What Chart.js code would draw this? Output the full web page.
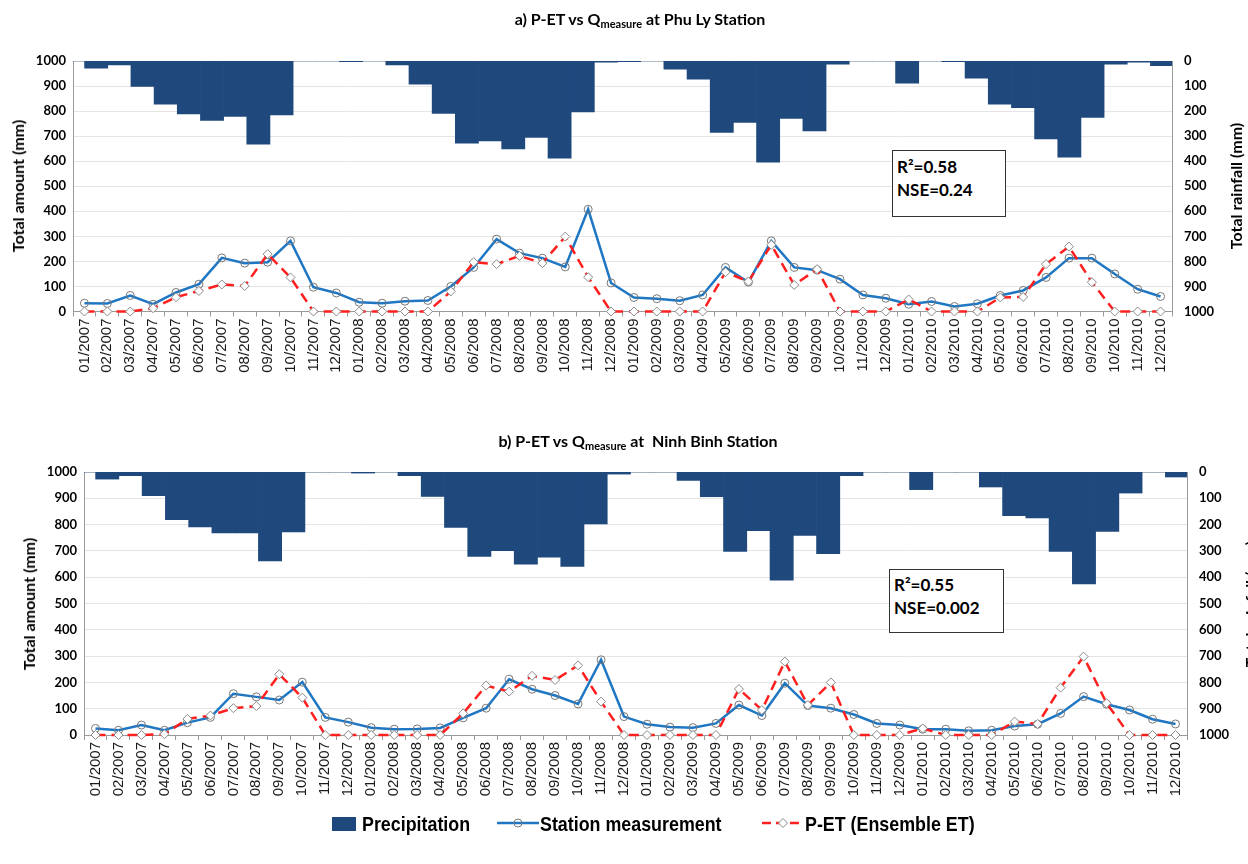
<!DOCTYPE html>
<html>
<head>
<meta charset="utf-8">
<script src="https://cdn.jsdelivr.net/npm/chart.js@4.4.1/dist/chart.umd.min.js"></script>
<style>
  html, body { margin: 0; padding: 0; background: #fff; }
  body { width: 1248px; height: 864px; position: relative; overflow: hidden; font-family: Lato, "Open Sans", sans-serif; color: #000; }
  canvas { position: absolute; left: 0; }
  #chartPhuLy { top: 0; }
  #chartNinhBinh { top: 400px; }
  .title { position: absolute; transform: translateX(-50%); white-space: pre; font-weight: 700; font-size: 16px; line-height: 18px; }
  .title sub { font-size: 11px; line-height: 0; vertical-align: -3px; }
  .axis-title { position: absolute; white-space: nowrap; font-weight: 700; font-size: 16px; line-height: 18px;
                transform: translate(-50%, -50%) rotate(-90deg); }
  .stat { position: absolute; box-sizing: border-box; border: 1px solid #333; background: #fff;
          font-weight: 700; font-size: 17px; line-height: 23px; padding: 4px 0 0 4px; }
  .legend-text { position: absolute; white-space: nowrap; font-family: "Liberation Sans Narrow", "Arial Narrow", "Liberation Sans", sans-serif;
                 font-weight: 700; font-size: 21px; line-height: 24px; transform: scaleX(0.85); transform-origin: 0 50%; }
  .legend-icon { position: absolute; }
</style>
</head>
<body>
<canvas id="chartPhuLy" width="1248" height="400"></canvas>
<canvas id="chartNinhBinh" width="1248" height="440"></canvas>

<div class="title" style="left:640px; top:10px;">a) P-ET vs Q<sub>measure</sub> at Phu Ly Station</div>
<div class="title" style="left:638px; top:432px;">b) P-ET vs Q<sub>measure</sub> at  Ninh Binh Station</div>

<div class="axis-title" style="left:18px; top:186px;">Total amount (mm)</div>
<div class="axis-title" style="left:1236px; top:186px;">Total rainfall (mm)</div>
<div class="axis-title" style="left:29px; top:604px;">Total amount (mm)</div>
<div class="axis-title" style="left:1251px; top:604px;">Total rainfall (mm)</div>

<div class="stat" style="left:892px; top:150px; width:114px; height:67px;">R²=0.58<br>NSE=0.24</div>
<div class="stat" style="left:889px; top:569px; width:115px; height:64px; padding-top:3px;">R²=0.55<br>NSE=0.002</div>

<div class="legend-icon" style="left:332px; top:817px; width:24px; height:14px; background:#1f497d;"></div>
<div class="legend-text" style="left:362px; top:812px;">Precipitation</div>
<svg class="legend-icon" style="left:497px; top:815px;" width="42" height="16">
  <line x1="0" y1="8" x2="42" y2="8" stroke="#1f77c4" stroke-width="2.5"/>
  <circle cx="21" cy="8" r="4" fill="none" stroke="#7a7a7a" stroke-width="1"/>
</svg>
<div class="legend-text" style="left:540px; top:812px;">Station measurement</div>
<svg class="legend-icon" style="left:762px; top:815px;" width="42" height="16">
  <line x1="0" y1="8" x2="42" y2="8" stroke="#ff1f1f" stroke-width="2.5" stroke-dasharray="9 5"/>
  <polygon points="21,3.5 25.5,8 21,12.5 16.5,8" fill="#fff" stroke="#8a8a8a" stroke-width="1"/>
</svg>
<div class="legend-text" style="left:805px; top:812px;">P-ET (Ensemble ET)</div>

<script>
// Month labels along the category axis
const months = [
  '01/2007','02/2007','03/2007','04/2007','05/2007','06/2007','07/2007','08/2007','09/2007','10/2007','11/2007','12/2007',
  '01/2008','02/2008','03/2008','04/2008','05/2008','06/2008','07/2008','08/2008','09/2008','10/2008','11/2008','12/2008',
  '01/2009','02/2009','03/2009','04/2009','05/2009','06/2009','07/2009','08/2009','09/2009','10/2009','11/2009','12/2009',
  '01/2010','02/2010','03/2010','04/2010','05/2010','06/2010','07/2010','08/2010','09/2010','10/2010','11/2010','12/2010'
];

// Phu Ly station (mm)
const precipPhuLy = [
  0, 29, 16, 101, 172, 211, 237, 221, 332, 215, 0, 0,
  3, 0, 16, 92, 209, 328, 319, 351, 305, 388, 203, 5,
  3, 0, 33, 73, 285, 245, 404, 229, 279, 13, 0, 0,
  89, 0, 3, 69, 172, 186, 311, 384, 225, 13, 5, 19
];
const stationPhuLy = [
  33, 32, 64, 29, 76, 109, 214, 193, 197, 282, 97, 74,
  37, 33, 41, 44, 100, 176, 289, 233, 213, 178, 408, 114,
  56, 51, 43, 66, 176, 117, 282, 176, 165, 129, 66, 53,
  29, 40, 20, 31, 64, 84, 136, 213, 213, 150, 89, 60
];
const petPhuLy = [
  0, 0, 0, 13, 57, 82, 108, 102, 229, 136, 0, 0,
  0, 0, 0, 0, 80, 197, 189, 222, 193, 299, 137, 0,
  0, 0, 0, 0, 157, 120, 266, 106, 169, 0, 0, 0,
  48, 0, 0, 0, 56, 58, 189, 259, 117, 0, 0, 0
];

// Ninh Binh station (mm)
const precipNinhBinh = [
  0, 27, 14, 90, 181, 209, 232, 232, 338, 228, 0, 0,
  4, 0, 14, 93, 211, 321, 299, 350, 324, 359, 197, 8,
  0, 0, 32, 94, 302, 223, 411, 241, 311, 14, 0, 0,
  67, 0, 0, 57, 166, 175, 302, 426, 226, 80, 0, 19
];
const stationNinhBinh = [
  25, 18, 38, 18, 47, 67, 157, 145, 133, 201, 67, 49,
  28, 22, 23, 27, 65, 102, 212, 174, 150, 118, 286, 70,
  41, 30, 28, 44, 114, 74, 197, 112, 102, 78, 44, 38,
  22, 22, 16, 18, 34, 41, 82, 146, 117, 95, 60, 42
];
const petNinhBinh = [
  0, 0, 0, 3, 61, 74, 102, 110, 231, 142, 0, 0,
  0, 0, 0, 0, 82, 188, 165, 225, 209, 265, 127, 0,
  0, 0, 0, 0, 175, 95, 279, 114, 200, 0, 0, 0,
  25, 0, 0, 0, 51, 42, 180, 298, 121, 0, 0, 0
];

const axisGray = '#9a9a9a';
const tickFont = { family: 'Lato, "Open Sans", sans-serif', weight: 'bold', size: 13 };
const plainNumber = (v) => String(v);

function buildPanel(canvasId, precip, station, pet, box) {
  // rainfall columns sit on their own hidden linear axis so they can hang from the top
  const rainColumns = precip.map((v, i) => ({ x: i, y: v }));
  return new Chart(document.getElementById(canvasId), {
    type: 'line',
    data: {
      labels: months,
      datasets: [
        {
          type: 'bar', label: 'Precipitation', data: rainColumns,
          xAxisID: 'xb', yAxisID: 'yr', grouped: false,
          backgroundColor: '#1f497d', borderWidth: 0,
          barPercentage: 1, categoryPercentage: 1, order: 3
        },
        {
          label: 'Station measurement', data: station,
          xAxisID: 'x', yAxisID: 'y',
          borderColor: '#1f77c4', borderWidth: 2.5, tension: 0,
          pointStyle: 'circle', pointRadius: 4, pointBorderWidth: 1,
          pointBorderColor: '#777', pointBackgroundColor: 'rgba(255,255,255,0)',
          clip: false, order: 2
        },
        {
          label: 'P-ET (Ensemble ET)', data: pet,
          xAxisID: 'x', yAxisID: 'y',
          borderColor: '#ff1f1f', borderWidth: 2.5, borderDash: [10, 6], tension: 0,
          pointStyle: 'rectRot', pointRadius: 4.5, pointBorderWidth: 1,
          pointBorderColor: '#8a8a8a', pointBackgroundColor: '#fff',
          clip: false, order: 1
        }
      ]
    },
    options: {
      responsive: false, animation: false, devicePixelRatio: 1,
      layout: { padding: { top: box.top, left: 0, right: 0, bottom: 0 } },
      plugins: { legend: { display: false }, tooltip: { enabled: false }, title: { display: false } },
      scales: {
        x: {
          type: 'category', offset: true,
          grid: { offset: true, drawOnChartArea: false, drawTicks: true, tickLength: 5, color: axisGray },
          border: { display: true, color: axisGray },
          ticks: { autoSkip: false, maxRotation: 90, minRotation: 90, padding: 2, color: '#1a1a1a',
                   font: { family: '"Liberation Sans", Arial, sans-serif', size: 15 } },
          afterFit(s) { s.height = box.xHeight; }
        },
        xb: {
          type: 'linear', display: false, offset: false, min: 0, max: 47.43,
          grid: { offset: false }, ticks: { stepSize: 5 }
        },
        y: {
          position: 'left', min: 0, max: 1000,
          ticks: { stepSize: 100, padding: 7, color: '#000', font: tickFont, callback: plainNumber },
          grid: { color: '#e4e4e4', drawTicks: false },
          border: { display: true, color: axisGray },
          afterFit(s) { s.width = box.left; }
        },
        yr: {
          position: 'right', reverse: true, min: 0, max: 1000,
          ticks: { stepSize: 100, padding: 12, color: '#000', font: tickFont, callback: plainNumber },
          grid: { display: false, drawTicks: false },
          border: { display: true, color: axisGray },
          afterFit(s) { s.width = box.right; }
        }
      }
    }
  });
}

buildPanel('chartPhuLy', precipPhuLy, stationPhuLy, petPhuLy,
           { top: 61, left: 73, right: 76, xHeight: 88.5 });
buildPanel('chartNinhBinh', precipNinhBinh, stationNinhBinh, petNinhBinh,
           { top: 72, left: 84, right: 61, xHeight: 105 });
</script>
</body>
</html>
